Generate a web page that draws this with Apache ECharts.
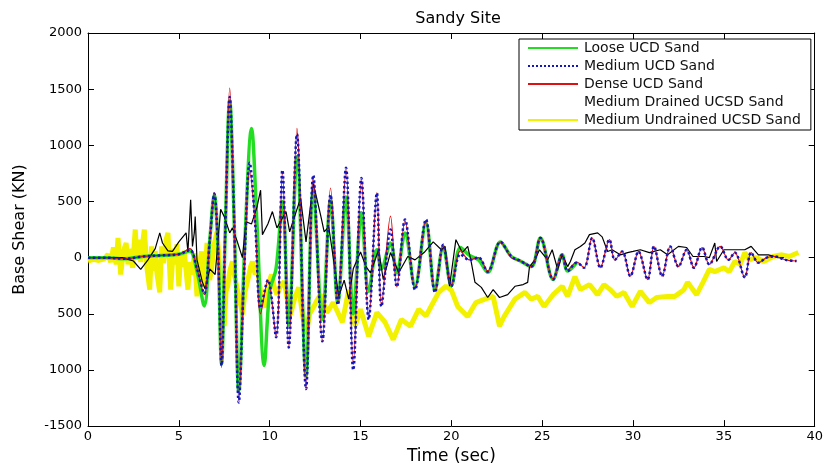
<!DOCTYPE html>
<html>
<head>
<meta charset="utf-8">
<script src="https://cdn.jsdelivr.net/npm/echarts@6/dist/echarts.min.js"></script>
<style>
html,body{margin:0;padding:0;background:#fff;}
#c{width:826px;height:470px;}
</style>
</head>
<body>
<div id="c"></div>
<script>
// ---- Data (time in sec, base shear in kN) ----
const seriesNames = ['Loose UCD Sand','Medium UCD Sand','Dense UCD Sand','Medium Drained UCSD Sand','Medium Undrained UCSD Sand'];
const xTicks = [0,5,10,15,20,25,30,35,40];
const yTickLabels = ['-1500','1000','500','0','500','1000','1500','2000'];

const looseUCD = [[0,0],[1,0],[2,-10],[3,10],[4,20],[5,30],[5.6,60],[6.0,-120],[6.4,-430],[6.7,150],[6.95,560],[7.15,100],[7.35,-950],[7.55,200],[7.8,1400],[8.05,300],[8.3,-1190],[8.65,200],[9.0,1150],[9.3,300],[9.7,-960],[10.0,-300],[10.35,-100],[10.7,500],[11.05,-600],[11.5,900],[12.0,-1050],[12.4,600],[12.9,-550],[13.35,515],[13.75,-400],[14.2,540],[14.6,-500],[15.05,400],[15.45,-300],[15.9,70],[16.15,-100],[16.65,130],[17.0,-135],[17.45,220],[18.0,-255],[18.6,310],[19.1,-290],[19.55,100],[20.0,-250],[20.5,90],[21.0,20],[21.5,-20],[22.0,-130],[22.7,140],[23.3,10],[23.8,-30],[24.4,-80],[24.9,175],[25.6,-195],[26.1,25],[26.4,-120],[26.9,-45]];

const mediumUCD = [[0,0],[1,0],[2,-10],[3,10],[4,20],[5,30],[5.6,70],[6.0,-100],[6.4,-320],[6.7,150],[6.95,570],[7.15,100],[7.35,-960],[7.55,200],[7.8,1430],[8.05,300],[8.3,-1290],[8.6,-100],[8.9,845],[9.2,300],[9.5,-450],[9.9,-200],[10.35,-710],[10.7,780],[11.05,-800],[11.5,1100],[12.0,-1170],[12.4,735],[12.9,-745],[13.35,560],[13.75,-420],[14.2,800],[14.6,-1000],[15.05,710],[15.45,-550],[15.9,575],[16.15,-435],[16.65,250],[17.0,-260],[17.45,340],[18.0,-285],[18.6,340],[19.1,-310],[19.55,115],[20.0,-255],[20.5,30],[21.0,-20],[21.5,0],[22.0,-125],[22.7,140],[23.3,10],[23.8,-30],[24.4,-80],[24.9,175],[25.6,-195],[26.1,25],[26.4,-120],[26.9,-45],[27.3,-90],[27.75,175],[28.2,-90],[28.7,160],[29.0,-20],[29.4,55],[29.85,-165],[30.3,55],[30.8,-195],[31.15,100],[31.6,-165],[32.05,100],[32.5,-80],[32.95,70],[33.35,-90],[33.8,90],[34.2,-60],[34.8,100],[35.25,-20],[35.6,45],[36.15,-175],[36.5,45],[36.9,-45],[37.35,0],[37.8,10],[38.4,-20],[39.0,-30]];

const denseUCD = [[0,0],[1,0],[2,-10],[3,10],[4,20],[5,30],[5.6,80],[6.0,-100],[6.4,-330],[6.7,150],[6.95,580],[7.15,100],[7.35,-980],[7.55,200],[7.8,1510],[8.05,300],[8.3,-1270],[8.6,-100],[8.9,780],[9.2,300],[9.5,-500],[9.9,-200],[10.35,-700],[10.7,760],[11.05,-800],[11.5,1150],[12.0,-1170],[12.4,720],[12.9,-740],[13.35,620],[13.75,-400],[14.2,790],[14.6,-950],[15.05,700],[15.45,-550],[15.9,580],[16.15,-430],[16.65,370],[17.0,-260],[17.45,330],[18.0,-280],[18.6,330],[19.1,-300],[19.55,110],[20.0,-250],[20.5,60],[21.0,-20],[21.5,0],[22.0,-120],[22.7,140],[23.3,0],[23.8,-30],[24.4,-80],[24.9,180],[25.6,-190],[26.1,30],[26.4,-110],[26.9,-40],[27.3,-90],[27.75,175],[28.2,-90],[28.7,160],[29.0,-20],[29.4,55],[29.85,-165],[30.3,55],[30.8,-195],[31.15,100],[31.6,-165],[32.05,100],[32.5,-80],[32.95,70],[33.35,-90],[33.8,90],[34.2,-60],[34.8,100],[35.25,-20],[35.6,45],[36.15,-175],[36.5,45],[36.9,-45],[37.35,0],[37.8,10],[38.4,-20],[39.0,-30]];

const drainedUCSD = [[0,0],[0.6,0],[1.9,0],[2.3,-20],[2.5,-30],[2.9,-105],[3.3,-20],[3.7,80],[3.95,220],[4.1,130],[4.4,60],[4.65,55],[5.0,140],[5.4,220],[5.5,50],[5.65,515],[5.75,100],[5.85,220],[5.9,365],[6.0,-20],[6.3,-220],[6.45,-280],[6.7,-100],[7.0,-150],[7.3,430],[7.5,365],[7.8,220],[7.95,265],[8.2,150],[8.5,0],[8.7,320],[9.0,300],[9.3,450],[9.5,600],[9.6,205],[9.9,300],[10.15,410],[10.4,265],[10.9,410],[11.1,230],[11.7,530],[12.0,140],[12.4,660],[12.8,380],[13.0,230],[13.25,275],[13.5,0],[13.8,-345],[14.1,-200],[14.35,-370],[14.6,-100],[15.0,50],[15.3,-80],[15.55,-135],[16.0,70],[16.25,-195],[16.65,45],[17.1,-135],[17.6,10],[18.0,-20],[18.5,45],[19.0,140],[19.45,70],[19.65,100],[19.9,-255],[20.25,160],[20.6,45],[20.9,100],[21.1,-45],[21.3,-220],[21.65,-265],[22.0,-355],[22.3,-285],[22.65,-355],[23.1,-330],[23.5,-255],[23.95,-240],[24.2,-220],[24.3,-80],[24.6,-20],[24.85,70],[25.3,-20],[25.55,70],[25.85,-105],[26.1,25],[26.4,-80],[26.55,-35],[26.8,70],[27.1,100],[27.35,130],[27.6,205],[28.05,220],[28.3,185],[28.6,55],[28.85,70],[29.3,25],[29.7,45],[30.0,55],[30.4,70],[30.9,45],[31.5,70],[31.9,25],[32.5,100],[32.95,90],[33.3,10],[33.9,10],[34.2,0],[34.5,130],[34.6,-35],[35.0,70],[35.6,70],[36.15,70],[36.5,100],[36.9,25],[37.45,25],[38.0,0],[38.3,0]];

const undrainedUCSD = [[0,-30],[0.3,-15],[0.6,-25],[0.9,-10],[1.1,30],[1.25,-40],[1.4,90],[1.55,-60],[1.65,175],[1.8,-150],[1.95,60],[2.1,130],[2.2,-60],[2.35,80],[2.45,-90],[2.6,250],[2.7,-20],[2.8,160],[2.9,-40],[3.0,120],[3.1,250],[3.25,-100],[3.4,-285],[3.5,100],[3.6,-120],[3.7,60],[3.8,-150],[3.95,-310],[4.05,100],[4.15,-50],[4.3,160],[4.4,220],[4.5,-120],[4.55,-285],[4.7,80],[4.8,-60],[4.9,120],[5.0,-255],[5.1,40],[5.2,-80],[5.3,60],[5.4,-120],[5.5,-285],[5.6,-40],[5.75,-150],[5.85,40],[6.0,-345],[6.1,-100],[6.25,55],[6.4,-265],[6.55,130],[6.7,-200],[6.8,-100],[6.95,120],[7.1,230],[7.25,-100],[7.4,-390],[7.5,-610],[7.6,-300],[7.7,-250],[7.8,-120],[7.95,-35],[8.05,-150],[8.2,-265],[8.35,-380],[8.5,-505],[8.65,-300],[8.8,-200],[8.95,-80],[9.05,-35],[9.2,-150],[9.3,-90],[9.5,-300],[9.7,-445],[9.9,-260],[10.1,-150],[10.25,-260],[10.4,-330],[10.6,-250],[10.8,-215],[11.0,-400],[11.15,-505],[11.4,-350],[11.6,-265],[11.8,-500],[12.0,-680],[12.2,-500],[12.4,-445],[12.6,-380],[12.8,-330],[13.15,-490],[13.5,-400],[14.0,-575],[14.35,-285],[14.7,-610],[15.0,-460],[15.45,-700],[15.9,-490],[16.35,-575],[16.8,-730],[17.25,-550],[17.75,-610],[18.2,-460],[18.6,-520],[19.0,-400],[19.3,-310],[19.7,-255],[20.0,-290],[20.35,-435],[20.9,-525],[21.35,-400],[21.85,-370],[22.3,-345],[22.65,-610],[22.9,-525],[23.5,-370],[24.05,-310],[24.4,-370],[24.75,-345],[25.1,-435],[25.6,-330],[26.1,-255],[26.4,-345],[26.8,-170],[27.1,-285],[27.6,-240],[28.05,-330],[28.4,-240],[28.75,-285],[29.1,-345],[29.5,-310],[29.95,-435],[30.4,-300],[30.9,-400],[31.3,-355],[31.9,-345],[32.3,-345],[32.8,-285],[33.0,-220],[33.5,-330],[33.85,-220],[34.2,-105],[34.5,-125],[35.0,-90],[35.3,-125],[35.6,-35],[35.9,-60],[36.15,45],[36.4,-20],[36.8,0],[37.2,-35],[37.7,10],[38.2,25],[38.6,10],[39.1,45]];

// ---- Chart ----
const FONT = 'DejaVu Sans';
const chart = echarts.init(document.getElementById('c'), null, {renderer:'canvas'});

const tickCommon = {show:true, inside:true, length:6, lineStyle:{color:'#000', width:1}};
const lineCommon = {show:true, onZero:false, lineStyle:{color:'#000', width:1}};

const option = {
  animation:false,
  backgroundColor:'#fff',
  title:{text:'Sandy Site', left:453, top:6, textAlign:'center',
    textStyle:{fontFamily:FONT, fontSize:16, fontWeight:'normal', color:'#000'}},
  grid:{left:88, right:7, top:33, bottom:43, show:false},
  legend:{
    data:[
      {name:seriesNames[0]},
      {name:seriesNames[1]},
      {name:seriesNames[2]},
      {name:seriesNames[3], lineStyle:{opacity:0}},
      {name:seriesNames[4]}
    ],
    orient:'vertical', left:519, top:39,
    itemWidth:50, itemHeight:14, itemGap:4,
    padding:[2,10,3,8],
    itemStyle:{opacity:0},
    backgroundColor:'#fff', borderColor:'#000', borderWidth:1, borderRadius:0,
    selectedMode:false,
    textStyle:{fontFamily:FONT, fontSize:14, color:'#111', padding:[0,0,0,1]}
  },
  xAxis:[
    {type:'value', min:0, max:40, interval:5, position:'bottom',
     name:'Time (sec)', nameLocation:'middle', nameGap:21,
     nameTextStyle:{fontFamily:FONT, fontSize:17, color:'#000'},
     axisLine:lineCommon, axisTick:tickCommon, splitLine:{show:false},
     axisLabel:{fontFamily:FONT, fontSize:13, color:'#000', margin:4,
       formatter:(v)=> xTicks.includes(v) ? String(v) : ''}},
    {type:'value', min:0, max:40, interval:5, position:'top',
     axisLine:lineCommon, axisTick:tickCommon, splitLine:{show:false}, axisLabel:{show:false}}
  ],
  yAxis:[
    {type:'value', min:-1500, max:2000, interval:500, position:'left',
     name:'Base Shear (KN)', nameLocation:'middle', nameGap:60, nameRotate:90,
     nameTextStyle:{fontFamily:FONT, fontSize:16, color:'#000'},
     axisLine:lineCommon, axisTick:tickCommon, splitLine:{show:false},
     axisLabel:{fontFamily:FONT, fontSize:13, color:'#000', margin:6,
       formatter:(v)=> yTickLabels[Math.round((v+1500)/500)] || ''}},
    {type:'value', min:-1500, max:2000, interval:500, position:'right',
     axisLine:lineCommon, axisTick:tickCommon, splitLine:{show:false}, axisLabel:{show:false}}
  ],
  series:[
    {name:seriesNames[4], type:'line', data:undrainedUCSD, symbol:'none', z:2,
     lineStyle:{color:'#f2f200', width:5}, itemStyle:{color:'#f2f200'}},
    {name:seriesNames[0], type:'line', data:looseUCD, symbol:'none', z:3, smooth:0.35,
     lineStyle:{color:'#22dd22', width:3.5}, itemStyle:{color:'#22dd22'}},
    {name:seriesNames[3], type:'line', data:drainedUCSD, symbol:'none', z:4,
     lineStyle:{color:'#000', width:1.2}, itemStyle:{color:'#000'}},
    {name:seriesNames[2], type:'line', data:denseUCD, symbol:'none', z:5, smooth:0.35,
     lineStyle:{color:'#dd1111', width:1.2}, itemStyle:{color:'#dd1111'}},
    {name:seriesNames[1], type:'line', data:mediumUCD, symbol:'none', z:6, smooth:0.35,
     lineStyle:{color:'#1515c0', width:2.5, type:'dotted'}, itemStyle:{color:'#1515c0'}}
  ]
};
chart.setOption(option);
</script>
</body>
</html>
